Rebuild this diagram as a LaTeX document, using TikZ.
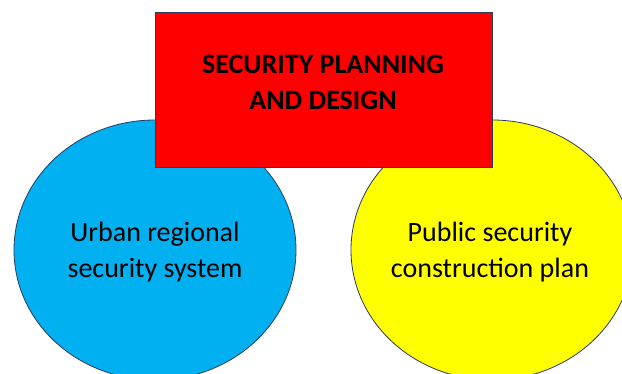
\documentclass[tikz,border=0pt]{standalone}
\usepackage{fontspec}
\setmainfont{Carlito}
\usetikzlibrary{shapes.geometric}
\definecolor{edge}{HTML}{2B3A5E}
\definecolor{skyblue}{HTML}{00B0F0}
\definecolor{brightyellow}{HTML}{FFFF00}
\definecolor{brightred}{HTML}{FF0000}
\begin{document}
\begin{tikzpicture}[x=1pt,y=-1pt,
  bubble/.style={ellipse, draw=edge, line width=0.8pt, minimum width=282pt, minimum height=260pt, inner sep=0pt},
  label/.style={font=\fontsize{28}{36}\selectfont, align=center, inner sep=0pt, text=black},
  titlebox/.style={rectangle, draw=edge, line width=0.8pt, fill=brightred, minimum width=337pt, minimum height=155pt, inner sep=0pt}]
\useasboundingbox (0,0) rectangle (622,374);
\clip (0,0) rectangle (622,374);
\node[bubble, fill=skyblue] (urban) at (155,250) {};
\node[bubble, fill=brightyellow] (public) at (492,250) {};
\node[titlebox] (title) at (323.5,89.5) {};
\node[label] (urbantext) at (155,252.5) {Urban regional\\security system};
\node[label] (publictext) at (490,252) {Public security\\construction plan};
\node[label, font=\fontsize{28}{36}\selectfont\bfseries] (titletext) at (323,82.5) {SECURITY PLANNING\\AND DESIGN};
\end{tikzpicture}
\end{document}
